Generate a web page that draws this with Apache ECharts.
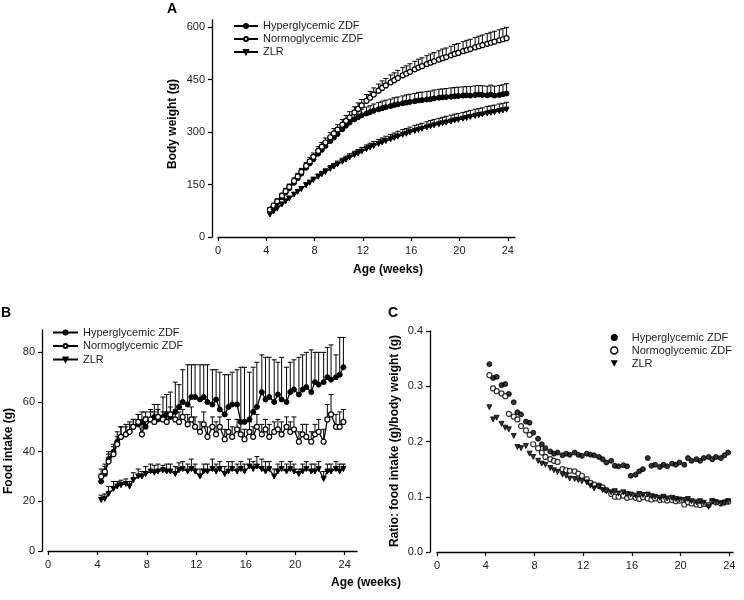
<!DOCTYPE html>
<html><head><meta charset="utf-8">
<script src="https://cdn.jsdelivr.net/npm/echarts@6/dist/echarts.min.js"></script>
<style>html,body{margin:0;padding:0;background:#fff}#c{width:744px;height:600px}</style>
</head><body><div id="c"></div>
<script>
const ages = [4.3,4.6,4.9,5.3,5.6,5.9,6.3,6.6,6.9,7.3,7.6,7.9,8.3,8.6,8.9,9.3,9.6,9.9,10.3,10.6,10.9,11.3,11.6,11.9,12.3,12.6,12.9,13.3,13.6,13.9,14.3,14.6,14.9,15.3,15.6,15.9,16.3,16.6,16.9,17.3,17.6,17.9,18.3,18.6,18.9,19.3,19.6,19.9,20.3,20.6,20.9,21.3,21.6,21.9,22.3,22.6,22.9,23.3,23.6,23.9];
const seriesNames = ['Hyperglycemic ZDF','Normoglycemic ZDF','ZLR'];
const xTicks = [0,4,8,12,16,20,24];
const bwTicks = [0,150,300,450,600];
const fiTicks = [0,20,40,60,80];
const ratioTicks = [0,0.1,0.2,0.3,0.4];

// Panel A: body weight (g)
const bwHyper = [74,86,98,114,127,139,155,168,181,198,210,222,238,249,260,274,284,294,308,318,327,336,342,348,353,357,361,365,368,371,374,377,379,382,384,386,388,390,391,393,394,396,398,399,400,401,402,403,404,405,404,406,407,406,405,407,404,406,408,410];
const bwNormo = [78,90,102,118,131,143,160,173,186,203,216,229,246,258,270,285,296,307,321,332,342,356,366,376,389,398,407,418,426,433,442,448,454,462,467,472,479,484,488,494,498,502,507,511,514,519,523,526,531,534,537,542,545,548,552,555,558,562,565,568];
const bwZLR = [64,73,82,93,102,110,121,129,137,148,155,163,172,179,186,195,201,207,215,221,227,234,239,244,251,256,260,266,270,274,279,283,287,292,295,299,303,306,309,313,316,319,322,325,327,330,333,335,338,340,343,346,348,350,353,355,357,360,362,364];
const bwHyperSD = [6,6,7,7,8,8,9,9,10,10,11,11,12,12,13,13,14,14,15,15,16,16,17,17,18,18,19,19,20,20,20,21,21,21,22,22,22,23,23,23,23,24,24,24,24,25,25,25,25,25,26,26,26,26,26,27,27,27,27,28];
const bwNormoSD = [6,6,7,7,8,8,9,9,10,10,11,11,12,12,13,13,14,14,15,15,16,16,17,17,18,18,19,19,20,20,21,21,22,22,22,23,23,24,24,24,25,25,25,26,26,26,27,27,27,28,28,28,29,29,29,30,30,30,31,31];
const bwZLRSD = [4,4,5,5,5,6,6,6,7,7,7,8,8,8,9,9,9,10,10,10,11,11,11,12,12,12,13,13,13,14,14,14,15,15,15,15,16,16,16,16,17,17,17,17,18,18,18,18,18,19,19,19,19,19,20,20,20,20,20,21];

// Panel B: food intake (g)
const fiHyper = [28,31,37,40,44,46,47,48,50,51,52,50,53,54,53,54,55,54,56,58,60,59,62,62,61,62,60,59,61,57,55,58,59,59,52,52,53,56,58,64,61,62,60,63,61,60,64,65,63,65,66,64,68,67,68,70,69,70,71,74];
const fiNormo = [30,32,36,39,43,46,47,48,50,52,47,53,53,52,54,53,52,55,53,52,54,51,53,50,48,51,46,50,47,50,45,48,46,49,47,45,48,46,50,47,49,46,48,49,47,50,48,49,44,47,46,44,47,48,44,53,55,50,50,52];
const fiZLR = [20.5,21,23,25,26,26.5,27,26,28.5,30,30,31,32,31.5,32,32.5,32,32,31,32.5,33,32,33,32,30,32,32,33,32,33,31,32,33,32,33,32,34,33,34,33,32,33,30,32,33,32,33,32,31,32,33,32,32,33,29,32,32,33,32,33];
const fiHyperSD = [3,3,3,3,4,4,3,4,3,4,4,4,4,5,6,8,8,10,12,9,13,16,13,13,14,13,15,14,12,15,16,13,13,14,22,22,19,18,18,15,17,16,17,13,17,14,12,12,15,14,14,17,12,13,12,12,14,9,15,12];
const fiNormoSD = [3,3,3,3,3,4,4,3,3,3,4,3,3,4,3,3,4,3,4,4,3,4,5,4,4,5,4,4,5,4,4,5,4,4,5,4,4,4,5,4,4,5,4,4,5,4,4,5,4,4,5,4,4,5,5,6,8,5,6,5];
const fiZLRSD = [2,2,3,3,2,2,2,2,3,3,2,3,3,3,3,2,3,3,3,3,3,3,4,3,3,3,3,4,3,3,3,4,3,3,3,3,3,3,4,4,4,3,3,3,3,3,3,3,2,3,3,3,3,3,3,3,3,3,3,2];

// Panel C: ratio food intake / body weight
const rHyper = [0.340,0.315,0.317,0.302,0.304,0.286,0.271,0.253,0.249,0.236,0.234,0.216,0.205,0.195,0.188,0.182,0.178,0.180,0.175,0.178,0.176,0.180,0.176,0.174,0.178,0.176,0.175,0.172,0.168,0.162,0.165,0.156,0.155,0.157,0.155,0.138,0.140,0.146,0.150,0.170,0.156,0.158,0.154,0.158,0.155,0.160,0.158,0.162,0.158,0.170,0.165,0.168,0.165,0.170,0.172,0.168,0.172,0.170,0.175,0.180];
const rNormo = [0.320,0.296,0.291,0.287,0.282,0.250,0.245,0.240,0.228,0.220,0.212,0.195,0.188,0.180,0.172,0.168,0.165,0.163,0.150,0.148,0.147,0.146,0.142,0.138,0.132,0.125,0.122,0.120,0.117,0.112,0.105,0.100,0.100,0.102,0.098,0.100,0.098,0.096,0.099,0.097,0.095,0.097,0.094,0.095,0.093,0.094,0.092,0.093,0.086,0.090,0.088,0.086,0.085,0.087,0.085,0.092,0.090,0.088,0.090,0.091];
const rZLR = [0.262,0.240,0.243,0.232,0.225,0.222,0.210,0.190,0.188,0.192,0.178,0.172,0.165,0.160,0.158,0.152,0.148,0.145,0.140,0.138,0.133,0.132,0.130,0.128,0.126,0.120,0.115,0.118,0.112,0.110,0.108,0.110,0.106,0.108,0.105,0.104,0.102,0.105,0.103,0.104,0.101,0.100,0.098,0.100,0.097,0.098,0.096,0.095,0.094,0.096,0.092,0.090,0.092,0.089,0.082,0.092,0.090,0.088,0.089,0.092];

const FONT = '"Liberation Sans", Arial, sans-serif';
const TXT = '#1a1a1a';
const pairs = (v) => ages.map((a, i) => [a, v[i]]);
const triples = (v, sd) => ages.map((a, i) => [a, v[i], sd[i]]);

function xAxis(idx, max) {
  return {
    type: 'value', gridIndex: idx, min: 0, max: max,
    axisLine: {show: true, onZero: false, lineStyle: {color: '#000', width: 1.3}},
    axisTick: {show: true, length: 4, lineStyle: {color: '#000', width: 1.2}, customValues: xTicks},
    axisLabel: {color: TXT, fontSize: 11, fontFamily: FONT, margin: 8, customValues: xTicks},
    splitLine: {show: false}
  };
}
function yAxis(idx, max, ticks, fmt) {
  return {
    type: 'value', gridIndex: idx, min: 0, max: max, offset: 6,
    axisLine: {show: true, onZero: false, lineStyle: {color: '#000', width: 1.3}},
    axisTick: {show: true, length: 4, lineStyle: {color: '#000', width: 1.2}, customValues: ticks},
    axisLabel: {color: TXT, fontSize: 11, fontFamily: FONT, margin: 7, customValues: ticks, formatter: fmt},
    splitLine: {show: false}
  };
}
const symDefs = [
  {symbol: 'circle', itemStyle: {color: '#000', borderColor: '#000', borderWidth: 1}},
  {symbol: 'circle', itemStyle: {color: '#fff', borderColor: '#000', borderWidth: 1.2}},
  {symbol: 'triangle', symbolRotate: 180, itemStyle: {color: '#000', borderColor: '#000', borderWidth: 1}}
];
function lineSeries(name, k, data, gi) {
  return Object.assign({
    type: 'line', name: name, xAxisIndex: gi, yAxisIndex: gi, data: pairs(data),
    symbolSize: 5, showAllSymbol: true, z: 3,
    lineStyle: {color: '#000', width: 1.3}, emphasis: {disabled: true}
  }, JSON.parse(JSON.stringify(symDefs[k])));
}
function errSeries(name, mean, sd, gi) {
  return {
    type: 'custom', name: name + ' SD', xAxisIndex: gi, yAxisIndex: gi, z: 2,
    data: triples(mean, sd), encode: {x: 0, y: 1},
    renderItem: function (params, api) {
      const x = api.value(0), y = api.value(1), s = api.value(2);
      const p0 = api.coord([x, y]);
      const p1 = api.coord([x, y + s]);
      return {type: 'group', children: [
        {type: 'line', shape: {x1: p0[0], y1: p0[1], x2: p1[0], y2: p1[1]}, style: {stroke: '#000', lineWidth: 1}},
        {type: 'line', shape: {x1: p1[0] - 2.5, y1: p1[1], x2: p1[0] + 2.5, y2: p1[1]}, style: {stroke: '#000', lineWidth: 1}}
      ]};
    }
  };
}
function scatterSeries(name, k, data, gi) {
  return Object.assign({
    type: 'scatter', name: name, xAxisIndex: gi, yAxisIndex: gi, data: pairs(data),
    symbolSize: 5, z: 3, emphasis: {disabled: true}
  }, JSON.parse(JSON.stringify(symDefs[k])));
}
const legendText = {color: TXT, fontSize: 11, fontFamily: FONT};
const downTri = 'path://M0,0 L10,0 L5,9 Z';

const option = {
  animation: false,
  backgroundColor: '#fff',
  grid: [
    {left: 218, right: 229, top: 20, bottom: 363},
    {left: 48, right: 387, top: 330, bottom: 49},
    {left: 437, right: 11, top: 331, bottom: 48}
  ],
  xAxis: [xAxis(0, 24.6), xAxis(1, 25), xAxis(2, 24.3)],
  yAxis: [
    yAxis(0, 620, bwTicks),
    yAxis(1, 89, fiTicks),
    Object.assign(yAxis(2, 0.4, ratioTicks, (v) => v.toFixed(1)), {offset: 7})
  ],
  legend: [
    {orient: 'vertical', left: 233, top: 20.5, padding: 0, itemWidth: 24, itemHeight: 5, itemGap: 2,
     textStyle: legendText, data: seriesNames, selectedMode: false},
    {orient: 'vertical', left: 52, top: 327, padding: 0, itemWidth: 25, itemHeight: 5, itemGap: 2.5,
     textStyle: legendText, data: seriesNames, selectedMode: false},
    {orient: 'vertical', left: 610, top: 332, padding: 0, itemWidth: 7, itemHeight: 7, itemGap: 2,
     textStyle: Object.assign({padding: [0, 0, 0, 9]}, legendText), selectedMode: false,
     data: [
       {name: seriesNames[0], icon: 'circle', itemStyle: {color: '#000', borderWidth: 0}},
       {name: seriesNames[1], icon: 'circle', itemStyle: {color: '#fff', borderColor: '#000', borderWidth: 1.5}},
       {name: seriesNames[2], icon: downTri, itemStyle: {color: '#000', borderWidth: 0}}
     ]}
  ],
  graphic: [
    {type: 'text', left: 167, top: 2, style: {text: 'A', font: 'bold 14px ' + FONT, fill: '#000'}},
    {type: 'text', left: 1, top: 306, style: {text: 'B', font: 'bold 14px ' + FONT, fill: '#000'}},
    {type: 'text', left: 388, top: 306, style: {text: 'C', font: 'bold 14px ' + FONT, fill: '#000'}},
    {type: 'text', x: 173, y: 124, rotation: Math.PI / 2,
     style: {text: 'Body weight (g)', font: 'bold 12px ' + FONT, fill: '#000', align: 'center', verticalAlign: 'middle'}},
    {type: 'text', x: 388, y: 270,
     style: {text: 'Age (weeks)', font: 'bold 12px ' + FONT, fill: '#000', align: 'center', verticalAlign: 'middle'}},
    {type: 'text', x: 9, y: 451, rotation: Math.PI / 2,
     style: {text: 'Food intake (g)', font: 'bold 12px ' + FONT, fill: '#000', align: 'center', verticalAlign: 'middle'}},
    {type: 'text', x: 366, y: 583,
     style: {text: 'Age (weeks)', font: 'bold 12px ' + FONT, fill: '#000', align: 'center', verticalAlign: 'middle'}},
    {type: 'text', x: 395, y: 441, rotation: Math.PI / 2,
     style: {text: 'Ratio: food intake (g)/body weight (g)', font: 'bold 12px ' + FONT, fill: '#000', align: 'center', verticalAlign: 'middle'}}
  ],
  series: [
    errSeries(seriesNames[1], bwNormo, bwNormoSD, 0),
    errSeries(seriesNames[0], bwHyper, bwHyperSD, 0),
    errSeries(seriesNames[2], bwZLR, bwZLRSD, 0),
    lineSeries(seriesNames[0], 0, bwHyper, 0),
    lineSeries(seriesNames[1], 1, bwNormo, 0),
    lineSeries(seriesNames[2], 2, bwZLR, 0),
    errSeries(seriesNames[0], fiHyper, fiHyperSD, 1),
    errSeries(seriesNames[1], fiNormo, fiNormoSD, 1),
    errSeries(seriesNames[2], fiZLR, fiZLRSD, 1),
    lineSeries(seriesNames[0], 0, fiHyper, 1),
    lineSeries(seriesNames[1], 1, fiNormo, 1),
    lineSeries(seriesNames[2], 2, fiZLR, 1),
    scatterSeries(seriesNames[0], 0, rHyper, 2),
    scatterSeries(seriesNames[1], 1, rNormo, 2),
    scatterSeries(seriesNames[2], 2, rZLR, 2)
  ]
};
const chart = echarts.init(document.getElementById('c'), null, {renderer: 'canvas'});
chart.setOption(option);
</script>
</body></html>
